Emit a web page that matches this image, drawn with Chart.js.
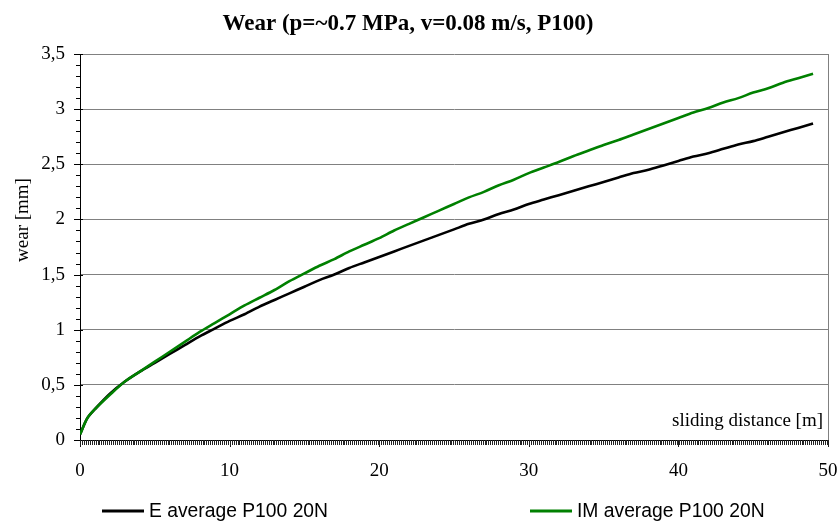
<!DOCTYPE html>
<html>
<head>
<meta charset="utf-8">
<script src="https://cdn.jsdelivr.net/npm/chart.js@4/dist/chart.umd.min.js"></script>
<style>
  html, body { margin: 0; padding: 0; background: #fff; }
  #wrap { width: 839px; height: 523px; }
</style>
</head>
<body>
<div id="wrap"><canvas id="c" width="839" height="523"></canvas></div>
<script>
// ---- data ----
const chartTitle = "Wear (p=~0.7 MPa, v=0.08 m/s, P100)";
const yTitle = "wear [mm]";
const xTitle = "sliding distance [m]";
const seriesNames = ["E average P100 20N", "IM average P100 20N"];

const distance = [0, 0.5, 1, 2, 3, 4, 5, 6, 7, 8, 9, 10, 11, 12, 13, 14, 15, 16, 17, 18, 19, 20,
  21, 22, 23, 24, 25, 26, 27, 28, 29, 30, 31, 32, 33, 34, 35, 36, 37, 38, 39, 40,
  41, 42, 43, 44, 45, 46, 47, 48, 49];

const wearE = [0.05, 0.20, 0.28, 0.42, 0.53, 0.62, 0.70, 0.78, 0.86, 0.94, 1.01, 1.08, 1.14, 1.21, 1.27, 1.33, 1.39, 1.45, 1.50, 1.56, 1.61, 1.66,
  1.71, 1.76, 1.81, 1.86, 1.91, 1.96, 2.00, 2.05, 2.09, 2.14, 2.18, 2.22, 2.26, 2.30, 2.34, 2.38, 2.42, 2.45, 2.49, 2.53,
  2.57, 2.60, 2.64, 2.68, 2.71, 2.75, 2.79, 2.83, 2.87];

const wearIM = [0.05, 0.20, 0.28, 0.41, 0.53, 0.62, 0.71, 0.80, 0.89, 0.98, 1.06, 1.14, 1.22, 1.29, 1.36, 1.44, 1.51, 1.58, 1.64, 1.71, 1.77, 1.83,
  1.90, 1.96, 2.02, 2.08, 2.14, 2.20, 2.25, 2.31, 2.36, 2.42, 2.47, 2.52, 2.575, 2.625, 2.675, 2.72, 2.77, 2.82, 2.87, 2.92,
  2.97, 3.01, 3.06, 3.10, 3.15, 3.19, 3.24, 3.28, 3.32];

const xTickLabels = ["0", "10", "20", "30", "40", "50"];
const yTickLabels = ["0", "0,5", "1", "1,5", "2", "2,5", "3", "3,5"];

const colorE = "#000000";
const colorIM = "#008000";
const serif = "'Liberation Serif', 'Times New Roman', serif";
const sans = "'Liberation Sans', Arial, sans-serif";

function pts(xs, ys) { return xs.map((x, i) => ({ x: x, y: ys[i] })); }

const decor = {
  id: 'decor',
  afterDraw(chart) {
    const ctx = chart.ctx;
    const a = chart.chartArea;
    const xs = chart.scales.x, ys = chart.scales.y;
    ctx.save();
    // right border of plot area
    ctx.strokeStyle = '#808080';
    ctx.lineWidth = 1;
    ctx.beginPath();
    ctx.moveTo(Math.round(a.right) + 0.5, a.top);
    ctx.lineTo(Math.round(a.right) + 0.5, a.bottom);
    ctx.stroke();

    // y tick marks (major every 0.5, minor every 0.1)
    ctx.strokeStyle = '#000';
    ctx.beginPath();
    for (let i = 0; i <= 35; i++) {
      const py = Math.round(ys.getPixelForValue(i / 10)) + 0.5;
      const major = i % 5 === 0;
      ctx.moveTo(a.left - (major ? 6 : 4), py);
      ctx.lineTo(a.left + (major ? 3 : 0), py);
    }
    ctx.stroke();

    // dense x tick marks
    ctx.beginPath();
    ctx.strokeStyle = '#222';
    for (let i = 0; i <= 400; i++) {
      const v = i * 0.13;
      if (v > 50) break;
      const px = Math.round(xs.getPixelForValue(v)) + 0.5;
      ctx.moveTo(px, a.bottom);
      ctx.lineTo(px, a.bottom + 5);
    }
    for (let v = 0; v <= 50; v += 10) {
      const px = Math.round(xs.getPixelForValue(v)) + 0.5;
      ctx.moveTo(px, a.bottom);
      ctx.lineTo(px, a.bottom + 7);
    }
    ctx.stroke();

    // title
    ctx.fillStyle = '#000';
    ctx.font = "bold 23px " + serif;
    ctx.textAlign = 'center';
    ctx.textBaseline = 'alphabetic';
    ctx.fillText(chartTitle, 408, 30);

    // x title inside plot
    ctx.font = "19px " + serif;
    ctx.textAlign = 'right';
    ctx.fillText(xTitle, a.right - 5, 426);

    // y title rotated
    ctx.save();
    ctx.translate(28, 220);
    ctx.rotate(-Math.PI / 2);
    ctx.textAlign = 'center';
    ctx.fillText(yTitle, 0, 0);
    ctx.restore();

    // legend
    ctx.font = "19.3px " + sans;
    ctx.textAlign = 'left';
    const items = [
      { x: 102, name: seriesNames[0], color: colorE },
      { x: 530, name: seriesNames[1], color: colorIM }
    ];
    items.forEach(it => {
      ctx.strokeStyle = it.color;
      ctx.lineWidth = 3;
      ctx.beginPath();
      ctx.moveTo(it.x, 511);
      ctx.lineTo(it.x + 42, 511);
      ctx.stroke();
      ctx.fillStyle = '#000';
      ctx.fillText(it.name, it.x + 47, 517);
    });
    ctx.restore();
  }
};

new Chart(document.getElementById('c'), {
  type: 'line',
  data: {
    datasets: [
      { label: seriesNames[0], data: pts(distance, wearE), borderColor: colorE, borderWidth: 2.6,
        pointRadius: 0, tension: 0.3, order: 1 },
      { label: seriesNames[1], data: pts(distance, wearIM), borderColor: colorIM, borderWidth: 2.6,
        pointRadius: 0, tension: 0.3, order: 0 }
    ]
  },
  options: {
    responsive: false,
    animation: false,
    layout: { padding: { top: 54, right: 11, bottom: 43, left: 0 } },
    plugins: { legend: { display: false }, title: { display: false }, tooltip: { enabled: false } },
    scales: {
      x: {
        type: 'linear', min: 0, max: 50,
        afterFit(s) { s.height = 40; s.paddingLeft = 0; s.paddingRight = 0; },
        grid: { display: true, drawOnChartArea: false, drawTicks: false },
        border: { display: true, color: '#000', width: 1 },
        ticks: {
          stepSize: 10, padding: 20, color: '#000', maxRotation: 0,
          font: { family: serif, size: 19 },
          callback: (v) => xTickLabels[Math.round(v / 10)]
        }
      },
      y: {
        min: 0, max: 3.5,
        afterFit(s) { s.width = 80; s.paddingTop = 0; s.paddingBottom = 0; },
        grid: {
          drawTicks: false,
          color: (c) => (c.tick && c.tick.value === 0) ? 'rgba(0,0,0,0)' : '#808080'
        },
        border: { display: true, color: '#000', width: 1 },
        ticks: {
          stepSize: 0.5, padding: 15, color: '#000',
          font: { family: serif, size: 19 },
          callback: (v) => yTickLabels[Math.round(v * 2)]
        }
      }
    }
  },
  plugins: [decor]
});
</script>
</body>
</html>
